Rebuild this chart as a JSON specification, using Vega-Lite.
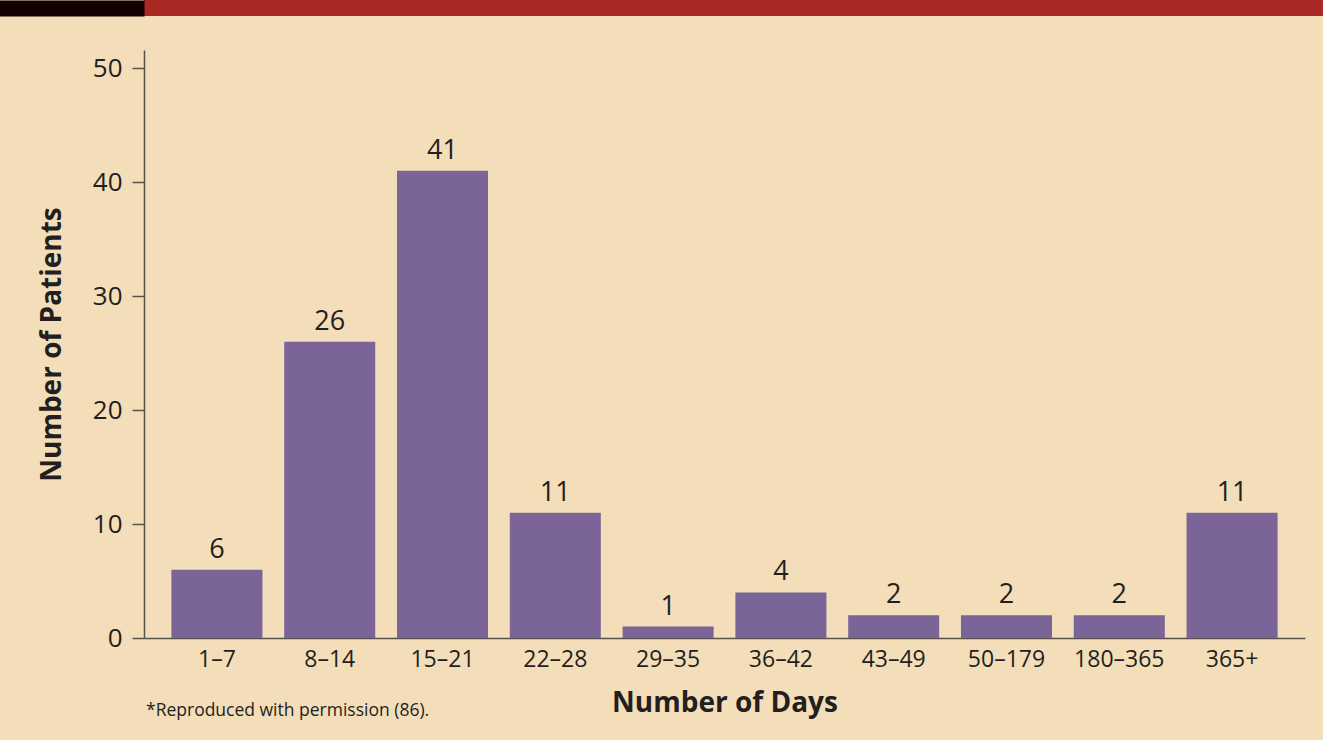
{
  "$schema": "https://vega.github.io/schema/vega-lite/v6.json",
  "background": "#F3DEB9",
  "padding": {"left": 0, "top": 0, "right": 0, "bottom": 20},
  "config": {"font": "Open Sans", "view": {"stroke": null}},
  "columns": 1,
  "align": "none",
  "spacing": 34,
  "concat": [
    {
      "width": 1179,
      "height": 16,
      "view": {"fill": "#A92A25", "stroke": null},
      "data": {"values": [{"t": "", "v": 0}]},
      "mark": {"type": "text"},
      "encoding": {
        "text": {"field": "t"},
        "y": {
          "field": "v",
          "type": "quantitative",
          "axis": {
            "title": null,
            "labels": false,
            "ticks": false,
            "grid": false,
            "domainColor": "#110200",
            "domainWidth": 145,
            "domainCap": "butt",
            "offset": 72.5
          }
        }
      }
    },
    {
      "width": 1161,
      "height": 588,
      "view": {"stroke": null},
      "data": {
        "values": [
          {"days": "1–7", "patients": 6},
          {"days": "8–14", "patients": 26},
          {"days": "15–21", "patients": 41},
          {"days": "22–28", "patients": 11},
          {"days": "29–35", "patients": 1},
          {"days": "36–42", "patients": 4},
          {"days": "43–49", "patients": 2},
          {"days": "50–179", "patients": 2},
          {"days": "180–365", "patients": 2},
          {"days": "365+", "patients": 11}
        ]
      },
      "title": {
        "text": "*Reproduced with permission (86).",
        "orient": "bottom",
        "anchor": "start",
        "frame": "group",
        "offset": -15,
        "fontSize": 17.5,
        "fontWeight": "normal",
        "color": "#231F20",
        "dx": 2
      },
      "encoding": {
        "x": {
          "field": "days",
          "type": "nominal",
          "sort": null,
          "scale": {"paddingInner": 0.193, "paddingOuter": 0.243},
          "axis": {
            "title": "Number of Days",
            "labelAngle": 0,
            "ticks": false,
            "labelPadding": 10,
            "labelFontSize": 23,
            "labelColor": "#231F20",
            "titleFontSize": 28,
            "titleFontWeight": "bold",
            "titleColor": "#231F20",
            "titlePadding": 18,
            "domainColor": "#57524D",
            "domainWidth": 1.5
          }
        },
        "y": {
          "field": "patients",
          "type": "quantitative",
          "scale": {"domain": [0, 51.6], "nice": false},
          "axis": {
            "values": [0, 10, 20, 30, 40, 50],
            "title": ["", "Number of Patients"],
            "titleLineHeight": 38,
            "grid": false,
            "tickSize": 12,
            "tickColor": "#57524D",
            "tickWidth": 1.5,
            "domainColor": "#57524D",
            "domainWidth": 1.5,
            "labelFontSize": 26,
            "labelColor": "#231F20",
            "labelPadding": 10,
            "titleFontSize": 28,
            "titleFontWeight": "bold",
            "titleColor": "#231F20",
            "titlePadding": 26
          }
        }
      },
      "layer": [
        {"mark": {"type": "bar", "color": "#7B6498"}},
        {
          "mark": {"type": "text", "baseline": "alphabetic", "dy": -12, "fontSize": 27, "color": "#231F20"},
          "encoding": {"text": {"field": "patients", "type": "quantitative"}}
        }
      ]
    }
  ]
}
